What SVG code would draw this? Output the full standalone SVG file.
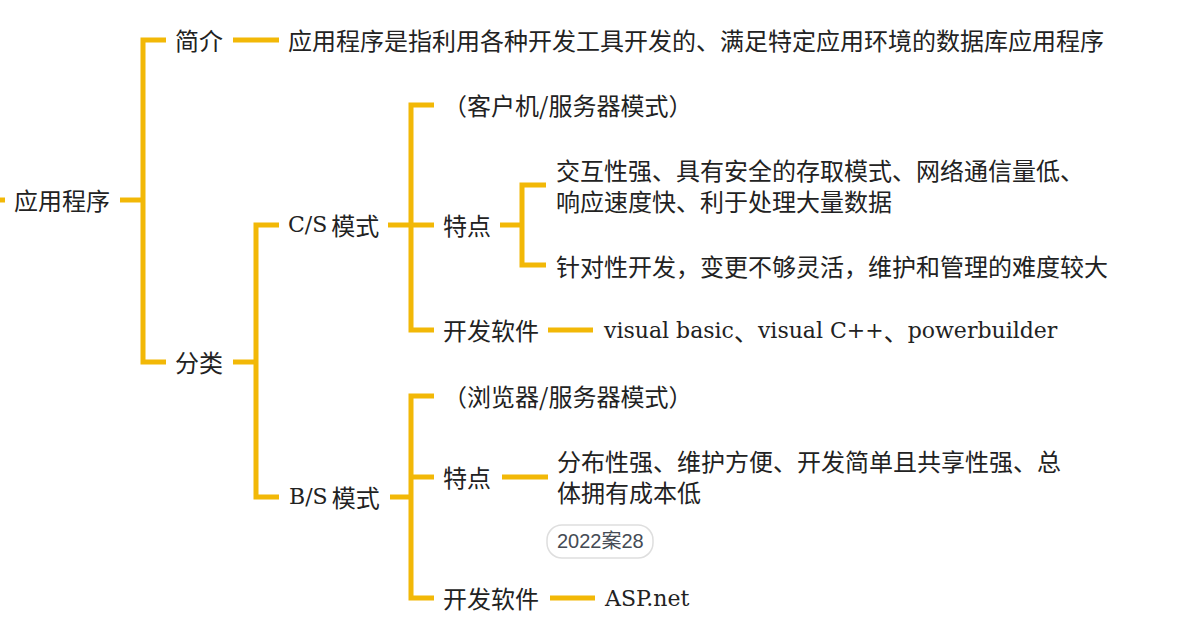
<svg xmlns="http://www.w3.org/2000/svg" width="1184" height="631" viewBox="0 0 1184 631">
<style>
.c{fill:none;stroke:#F2B807;stroke-width:5;stroke-linejoin:miter;stroke-linecap:butt}
text{font-family:"Noto Sans CJK SC","Noto Sans",sans-serif;font-size:24px;fill:#222;dominant-baseline:central}
.lat{font-family:"DejaVu Serif","Noto Sans CJK SC",serif;font-size:22px}
.badge rect{fill:#fff;stroke:#dedede;stroke-width:1.5}
.badge text{font-family:"Liberation Sans","Noto Sans CJK SC",sans-serif;font-size:20px;fill:#454b54}
</style>
<rect width="1184" height="631" fill="#fff"/>
<g id="connectors">
<path class="c" d="M0 200H5"/>
<path class="c" d="M120 200H143"/>
<path class="c" d="M166 40H143V362H166"/>
<path class="c" d="M233 40H279"/>
<path class="c" d="M233 362H256"/>
<path class="c" d="M279 225H256V497H279"/>
<path class="c" d="M388 225H411"/>
<path class="c" d="M434 105H411V330H434"/>
<path class="c" d="M411 225H434"/>
<path class="c" d="M500 225H522"/>
<path class="c" d="M546 185H522V265H546"/>
<path class="c" d="M548 330H593"/>
<path class="c" d="M390 497H411"/>
<path class="c" d="M434 396H411V598H434"/>
<path class="c" d="M411 477H434"/>
<path class="c" d="M502 477H548"/>
<path class="c" d="M550 598H595"/>
</g>
<g id="root"><text x="14" y="199">应用程序</text></g>
<g id="intro"><text x="175" y="39">简介</text></g>
<g id="intro-desc"><text x="288" y="39">应用程序是指利用各种开发工具开发的、满足特定应用环境的数据库应用程序</text></g>
<g id="classify"><text x="175" y="361">分类</text></g>
<g id="cs"><text x="288" y="224"><tspan class="lat">C/S </tspan><tspan dx="-3">模式</tspan></text></g>
<g id="cs-desc"><text x="443" y="104">（客户机/服务器模式）</text></g>
<g id="cs-feature"><text x="443" y="224">特点</text></g>
<g id="cs-feature-1"><text x="556" y="169"><tspan x="556" y="169">交互性强、具有安全的存取模式、网络通信量低、</tspan><tspan x="556" y="200">响应速度快、利于处理大量数据</tspan></text></g>
<g id="cs-feature-2"><text x="556" y="265">针对性开发，变更不够灵活，维护和管理的难度较大</text></g>
<g id="cs-software"><text x="443" y="329">开发软件</text></g>
<g id="cs-software-list"><text x="604" y="330"><tspan class="lat">visual basic</tspan>、<tspan class="lat">visual C++</tspan>、<tspan class="lat">powerbuilder</tspan></text></g>
<g id="bs"><text x="289" y="496"><tspan class="lat">B/S </tspan><tspan dx="-3">模式</tspan></text></g>
<g id="bs-desc"><text x="443" y="395">（浏览器/服务器模式）</text></g>
<g id="bs-feature"><text x="443" y="476">特点</text></g>
<g id="bs-feature-1"><text x="557" y="460"><tspan x="557" y="460">分布性强、维护方便、开发简单且共享性强、总</tspan><tspan x="557" y="491">体拥有成本低</tspan></text></g>
<g id="badge" class="badge"><rect x="547" y="525" width="106" height="33" rx="15"/><text x="557" y="541">2022案28</text></g>
<g id="bs-software"><text x="443" y="597">开发软件</text></g>
<g id="bs-software-list"><text x="605" y="598" class="lat">ASP.net</text></g>
</svg>
